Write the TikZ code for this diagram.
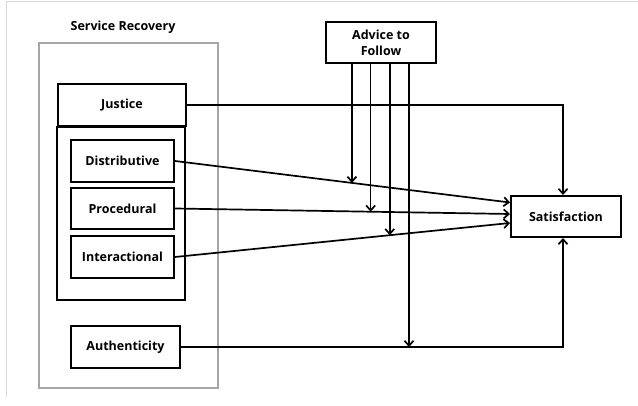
\documentclass[tikz,border=0pt]{standalone}
\usepackage{fontspec}
\setmainfont{Open Sans}[BoldFont={Open Sans Bold}]
\usetikzlibrary{arrows.meta}

\begin{document}
\begin{tikzpicture}[x=1pt, y=-1pt, >={Straight Barb[length=5pt,width=9pt]},
	box/.style={draw, line width=2pt, font=\bfseries\fontsize{12.5}{16}\selectfont, inner sep=0pt},
	link/.style={line width=1.7pt}]
			\useasboundingbox (0,0) rectangle (638,406);
			\draw[gray!30, line width=1pt] (6,397) -- (6,2) -- (638,2);
			\node[font=\bfseries\fontsize{12.5}{16}\selectfont] (title) at (123,27) {Service Recovery};
			\draw[gray!70, line width=1.2pt] (39,43) rectangle (218,388);
			% predictors
			\node[box, minimum width=128pt, minimum height=42pt] (jus) at (122,105) {Justice};
			\draw[line width=2pt] (jus.south west) rectangle ++(128,173);
			\node[box, minimum width=103pt, minimum height=42pt] (dis) at (122.5,161) {Distributive};
			\node[box, minimum width=103pt, minimum height=41pt] (pro) at (122.5,208.5) {Procedural};
			\node[box, minimum width=103pt, minimum height=42pt] (int) at (122.5,257) {Interactional};
			\node[box, minimum width=109pt, minimum height=42pt] (aut) at (125.5,347) {Authenticity};
			% moderator and outcome
			\node[box, minimum width=110pt, minimum height=41pt, align=center] (adv) at (381,42.5) {Advice to\\Follow};
			\node[box, minimum width=110pt, minimum height=41pt] (sat) at (566,216.5) {Satisfaction};
			% main effects
			\draw[link,->] (jus.east) -| ([xshift=-3pt]sat.north);
			\draw[link,->] (aut.east) -| ([xshift=-3pt]sat.south);
			\draw[link,->] (dis.east) -- coordinate[pos=0.528] (m1) ([yshift=14pt]sat.west);
			\draw[link,->] (pro.east) -- coordinate[pos=0.584] (m2) ([yshift=2.5pt]sat.west);
			\draw[link,->] (int.east) -- coordinate[pos=0.641] (m3) ([yshift=-6.5pt]sat.west);
			% moderation
			\coordinate (d4) at ([xshift=84pt]adv.south west);
			\draw[link,->] (m1 |- adv.south) -- (m1);
			\draw[link,->] (m2 |- adv.south) -- (m2);
			\draw[link,->] (m3 |- adv.south) -- (m3);
			\draw[link,->] (d4) -- (d4 |- aut.east);
		\end{tikzpicture}
\end{document}
